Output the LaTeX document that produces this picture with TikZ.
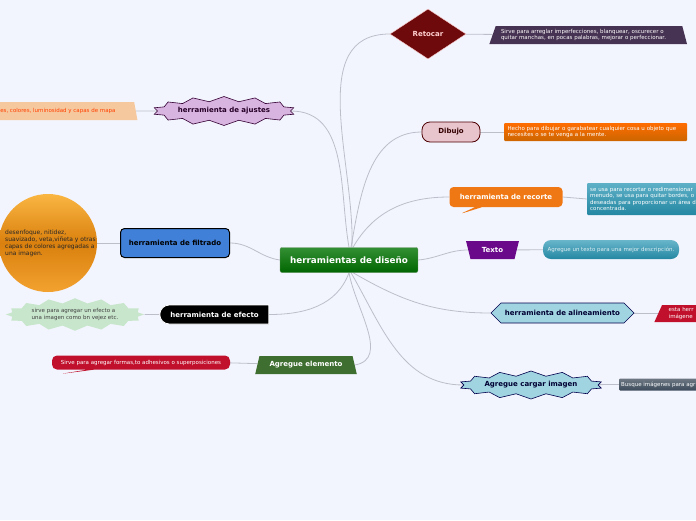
\documentclass[tikz,border=0pt]{standalone}
\usepackage{fontspec}
\setmainfont{DejaVu Sans}
\usetikzlibrary{shapes.geometric,shapes.symbols,shapes.callouts,shapes.misc,backgrounds}

\definecolor{fondo}{RGB}{243,245,254}
\definecolor{linea}{RGB}{188,190,202}
\definecolor{vinoRetocar}{RGB}{110,10,12}
\definecolor{moradoNota}{RGB}{70,50,82}
\definecolor{lila}{RGB}{216,180,224}
\definecolor{durazno}{RGB}{246,200,158}
\definecolor{rosaDibujo}{RGB}{232,196,204}
\definecolor{naranja}{RGB}{240,120,20}
\definecolor{turquesa}{RGB}{40,150,180}
\definecolor{purpura}{RGB}{106,10,138}
\definecolor{azulFiltro}{RGB}{64,128,216}
\definecolor{verdeClaro}{RGB}{200,230,204}
\definecolor{celeste}{RGB}{160,212,224}
\definecolor{carmesi}{RGB}{192,16,44}
\definecolor{verdeOscuro}{RGB}{62,110,48}
\definecolor{pizarra}{RGB}{60,74,90}
\definecolor{sol1}{RGB}{250,182,66}
\definecolor{sol2}{RGB}{218,128,14}
\definecolor{sol3}{RGB}{242,162,48}

\tikzset{
  tema/.style={font=\bfseries\fontsize{7}{8.5}\selectfont, inner sep=1pt},
  nota/.style={font=\fontsize{5.5}{6.6}\selectfont, align=left, inner sep=2pt},
  rama/.style={draw=linea, line width=0.8pt},
}

\begin{document}
\begin{tikzpicture}[x=1pt,y=-1pt]
    \useasboundingbox (0,0) rectangle (696,520);

    % centro
    \node[rounded corners=2pt, top color=green!45!black!80, bottom color=green!40!black, draw=green!30!black!60,
          minimum width=138pt, minimum height=25pt, text=white, font=\bfseries\fontsize{8.8}{10}\selectfont] (centro) at (349,260) {herramientas de diseño};

    % ramas derechas
    \node[diamond, fill=vinoRetocar, draw=pink!70, minimum width=76pt, minimum height=50pt, inner sep=0pt,
          text=pink!75, tema] (retocar) at (428,34) {Retocar};
    \node[trapezium, trapezium stretches=true, trapezium left angle=69, trapezium right angle=74, fill=moradoNota,
          minimum width=198pt, minimum height=18pt, text=white, nota, text width=176pt] (notaRetocar) at (589,35)
          {Sirve para arreglar imperfecciones, blanquear, oscurecer o\\quitar manchas, en pocas palabras, mejorar o perfeccionar.};

    \node[rounded corners=8pt, fill=rosaDibujo, draw=red!30!black, line width=0.8pt, minimum width=58pt, minimum height=20pt,
          tema, text=red!20!black] (dibujo) at (451,132) {Dibujo};
    \node[top color=orange!85!red, bottom color=orange!80!black, rounded corners=1pt, minimum width=183pt, minimum height=18pt,
          text=white, nota, text width=176pt] (notaDibujo) at (595.5,132)
          {Hecho para dibujar o garabatear cualquier cosa u objeto que\\necesites o se te venga a la mente.};

    \node[rectangle callout, callout absolute pointer={(460,214)}, fill=naranja, rounded corners=4pt,
          minimum width=113pt, minimum height=20pt, text=white, tema] (recorte) at (506,197) {herramienta de recorte};
    \node[top color=turquesa!75, bottom color=turquesa!90!black, rounded corners=1pt, minimum width=120pt, minimum height=32pt,
          text width=114pt, text=white, nota, anchor=west] (notaRecorte) at (587,199)
          {se usa para recortar o redimensionar\\menudo, se usa para quitar bordes, o\\deseadas para proporcionar un área d\\concentrada.};

    \node[trapezium, trapezium stretches=true, shape border rotate=180, trapezium angle=72, fill=purpura,
          minimum width=53pt, minimum height=18pt, text=white, tema] (texto) at (492.5,250) {Texto};
    \node[rounded corners=8pt, top color=turquesa!70, bottom color=turquesa!90!black, minimum width=136pt, minimum height=19pt,
          text=white!85!turquesa, nota] (notaTexto) at (611,249.5) {Agregue un texto para una mejor descripción.};

    \node[signal, signal to=west and east, fill=celeste, draw=blue!30!black, line width=0.6pt,
          minimum width=143pt, minimum height=20pt, tema, text=blue!20!black] (alineamiento) at (562.5,313) {herramienta de alineamiento};
    \node[trapezium, trapezium stretches=true, trapezium left angle=70, trapezium right angle=90, fill=carmesi,
          minimum width=46pt, minimum height=17pt, text=white, nota, anchor=west] (notaAlineamiento) at (658,313.5) {esta herr\\imágene};

    \node[starburst, starburst points=14, starburst point height=5pt, random starburst=0, fill=celeste, draw=blue!30!black,
          line width=0.6pt, minimum width=117pt, minimum height=28pt, tema, text=blue!20!black] (cargar) at (531,385) {Agregue cargar imagen};
    \node[top color=pizarra!75, bottom color=pizarra, rounded corners=1pt, minimum height=12pt, text=white,
          nota, anchor=west] (notaCargar) at (619,384.5) {Busque imágenes para agr};

    % ramas izquierdas
    \node[starburst, starburst points=14, starburst point height=5pt, random starburst=0, fill=lila, draw=violet!40!black,
          line width=0.6pt, minimum width=115pt, minimum height=29pt, tema, text=violet!30!black] (ajustes) at (224,111) {herramienta de ajustes};
    \node[trapezium, trapezium stretches=true, trapezium left angle=90, trapezium right angle=71, fill=durazno,
          minimum width=150pt, minimum height=18pt, text=orange!50!red, nota, anchor=east] (notaAjustes) at (136,111)
          {\hspace{10pt}es, colores, luminosidad y capas de mapa\hspace{16pt}};

    \node[rounded corners=4pt, fill=azulFiltro, draw=black, line width=1pt, minimum width=109pt, minimum height=29pt,
          tema] (filtrado) at (175,243) {herramienta de filtrado};
    \node[circle, top color=sol1, bottom color=sol3, middle color=sol2,
          minimum size=98pt, inner sep=0pt] (circuloFiltro) at (48,243) {};
    \node[nota, text=black!85, anchor=west, font=\fontsize{6}{7}\selectfont] (notaFiltrado) at (3,243.5)
          {desenfoque, nitidez,\\suavizado, veta,viñeta y otras\\capas de colores agregadas a\\una imagen.};

    \node[rounded rectangle, rounded rectangle right arc=none, fill=black, draw=white, line width=0.8pt,
          minimum width=111pt, minimum height=19pt, text=white, tema] (efecto) at (214.5,314.5) {herramienta de efecto};
    \node[starburst, starburst points=16, starburst point height=5pt, random starburst=0, fill=verdeClaro,
          minimum width=108pt, minimum height=27pt, nota, text=black!75] (notaEfecto) at (75,314.5)
          {sirve para agregar un efecto a\\una imagen como bn vejez etc.};

    \node[trapezium, trapezium stretches=true, trapezium angle=69, fill=verdeOscuro, minimum width=102pt, minimum height=18pt,
          text=white, tema] (elemento) at (306,365) {Agregue elemento};
    \node[rectangle callout, callout absolute pointer={(60,374)}, fill=carmesi, rounded corners=5pt,
          minimum width=178pt, minimum height=14pt, text=white, nota] (notaElemento) at (141,362.5)
          {Sirve para agregar formas,to adhesivos o superposiciones};

    % conectores
    \begin{scope}[on background layer]
        \fill[fondo] (0,0) rectangle (696,520);
        \draw[rama] (centro.north) ++(3,0) to[out=88,in=180] (retocar.west);
        \draw[rama] (centro.north) to[out=100,in=0] (ajustes.east);
        \draw[rama] (centro.north) ++(2,0) to[out=80,in=180] (dibujo.west);
        \draw[rama] (centro.north) ++(4,0) to[out=60,in=180] (recorte.west);
        \draw[rama] (centro.east) to[out=5,in=180] (texto.west);
        \draw[rama] (centro.west) to[out=172,in=0] (filtrado.east);
        \draw[rama] (centro.south) to[out=250,in=0] (efecto.east);
        \draw[rama] (centro.south) to[out=-80,in=10] (elemento.east);
        \draw[rama] (centro.south) ++(4,0) to[out=-30,in=180] (alineamiento.west);
        \draw[rama] (centro.south) ++(2,0) to[out=-60,in=180] (cargar.west);
        \draw[rama] (retocar) -- (notaRetocar);
        \draw[rama] (ajustes) -- (notaAjustes);
        \draw[rama] (dibujo) -- (notaDibujo);
        \draw[rama] (recorte.east) -- (notaRecorte.west);
        \draw[rama] (texto) -- (notaTexto);
        \draw[rama] (filtrado) -- (circuloFiltro);
        \draw[rama] (efecto) -- (notaEfecto);
        \draw[rama] (alineamiento) -- (notaAlineamiento.west);
        \draw[rama] (elemento) -- (notaElemento);
        \draw[rama] (cargar) -- (notaCargar.west);
    \end{scope}
\end{tikzpicture}
\end{document}
